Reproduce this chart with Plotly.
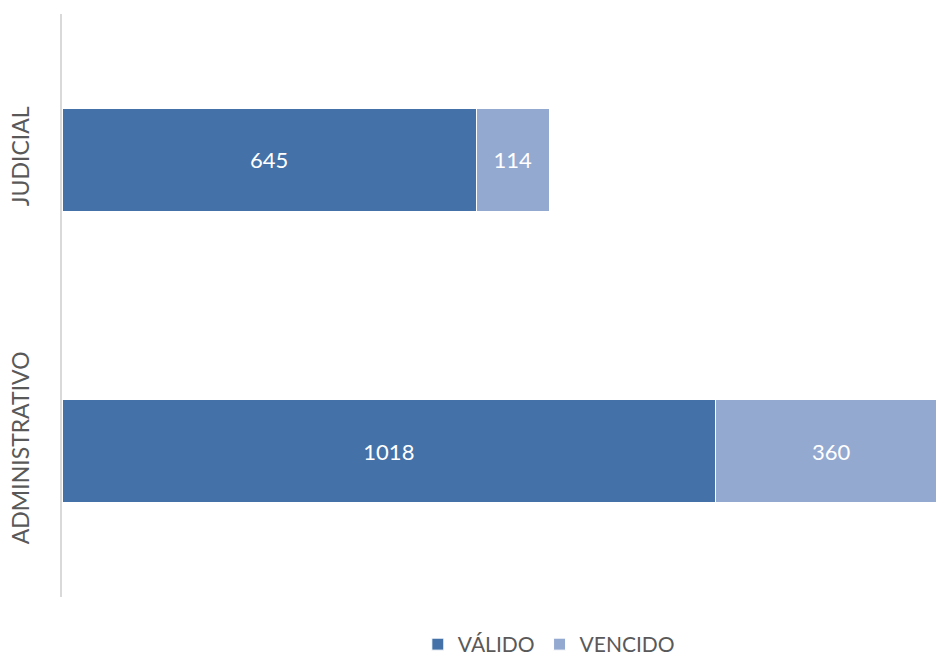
import plotly.graph_objects as go

categories = ["ADMINISTRATIVO", "JUDICIAL"]
valido = [1018, 645]
vencido = [360, 114]

FONT = "Lato"
fig = go.Figure()
fig.add_trace(go.Bar(
    y=categories, x=valido, name="VÁLIDO", orientation="h",
    marker=dict(color="#4472a8", line=dict(color="white", width=1)),
    text=valido, textposition="inside", insidetextanchor="middle",
    textfont=dict(color="white", size=22, family=FONT),
))
fig.add_trace(go.Bar(
    y=categories, x=vencido, name="VENCIDO", orientation="h",
    marker=dict(color="#94a9d0", line=dict(color="white", width=1)),
    text=vencido, textposition="inside", insidetextanchor="middle",
    textfont=dict(color="white", size=22, family=FONT),
))

fig.update_layout(
    width=936, height=659,
    barmode="stack", bargap=0.647,
    margin=dict(l=62, r=0, t=14, b=62, autoexpand=False),
    plot_bgcolor="white", paper_bgcolor="white",
    font=dict(family=FONT, color="#595959"),
    uniformtext=dict(mode=False),
    legend=dict(orientation="h", x=0.557, xanchor="center",
                yref="container", y=0.022, yanchor="middle",
                font=dict(size=21, color="#595959"), traceorder="normal"),
    showlegend=True,
)
fig.update_xaxes(range=[0, 1361], visible=False, showgrid=False)
fig.update_yaxes(showline=True, linecolor="#d9d9d9", linewidth=2, ticks="",
                 tickangle=-90, tickfont=dict(size=23, color="#595959"),
                 showgrid=False, ticklabelstandoff=22)

fig.write_html("out.html")
